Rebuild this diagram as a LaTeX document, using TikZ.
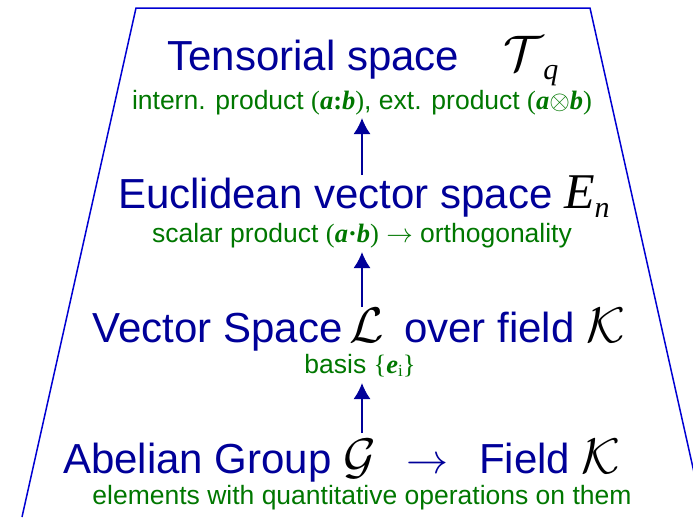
\documentclass[tikz,border=0pt]{standalone}
\usepackage{fix-cm}
\usepackage{fontspec}
\setmainfont{Liberation Sans}
\newfontfamily\serifface{Liberation Serif}
\usepackage{tikz}
\usetikzlibrary{positioning,arrows.meta}
\definecolor{ttlblue}{RGB}{0,0,153}
\definecolor{subgreen}{RGB}{0,119,0}
\definecolor{frameblue}{RGB}{0,0,210}
\newcommand{\calsym}[1]{{\color{black}\fontsize{50}{50}\selectfont$\mathcal{#1}$}}
\newcommand{\lowsub}[1]{\raisebox{-9pt}{\color{black}\fontsize{30}{30}\selectfont\serifface\itshape #1}}
\newcommand{\bvec}[1]{{\serifface\bfseries\itshape #1}}

\begin{document}
\begin{tikzpicture}[
  x=1pt, y=-1pt,
  ttl/.style={text=ttlblue, font=\fontsize{42}{44}\selectfont, inner sep=0pt, anchor=base},
  sub/.style={text=subgreen, font=\fontsize{26.5}{28}\selectfont, inner sep=0pt, anchor=base},
  up/.style={-{Latex[length=16pt,width=17pt]}, draw=ttlblue, line width=1.8pt},
  frame/.style={draw=frameblue, line width=1.5pt}
]
\clip (0,0) rectangle (693,517);

% frame of the pyramid
\coordinate (bl) at (22,517);
\coordinate (tl) at (136,8);
\coordinate (tr) at (590,8);
\coordinate (br) at (704,517);
\draw[frame] (bl) -- (tl) -- (tr) -- (br);

% levels, top to bottom
\node[ttl] (tens) at (363,70) {Tensorial space\hspace{1.05em}\calsym{T}\lowsub{q}};
\node[sub] (tenssub) at (362,109)
  {intern. product {\serifface(}\bvec{a}{\serifface\bfseries:}\bvec{b}{\serifface)}, ext. product {\serifface(}\bvec{a}$\otimes$\bvec{b}{\serifface)}};

\node[ttl] (eucl) at (364,208) {Euclidean vector space {\color{black}\fontsize{50}{50}\selectfont\serifface\itshape E}\lowsub{n}};
\node[sub] (euclsub) at (362,242)
  {scalar product {\serifface(}\bvec{a}{\serifface\bfseries\textperiodcentered}\bvec{b}{\serifface)} $\rightarrow$ orthogonality};

\node[ttl] (vect) at (359,342) {Vector Space\,\calsym{L}\hspace{0.2em} over field \calsym{K}};
\node[sub] (vectsub) at (360,373)
  {basis {\serifface\{}\bvec{e}{\serifface\raisebox{-3pt}{\fontsize{17}{17}\selectfont i}\}}};

\node[ttl] (abel) at (342,473) {Abelian Group \calsym{G}\hspace{0.45em} $\rightarrow$\hspace{0.45em} Field \calsym{K}};
\node[sub] (abelsub) at (362,504)
  {elements with quantitative operations on them};

% connectors
\draw[up] (362,175) -- (362,118);
\draw[up] (362,307) -- (362,252);
\draw[up] (362,433) -- (362,383);
\end{tikzpicture}
\end{document}
